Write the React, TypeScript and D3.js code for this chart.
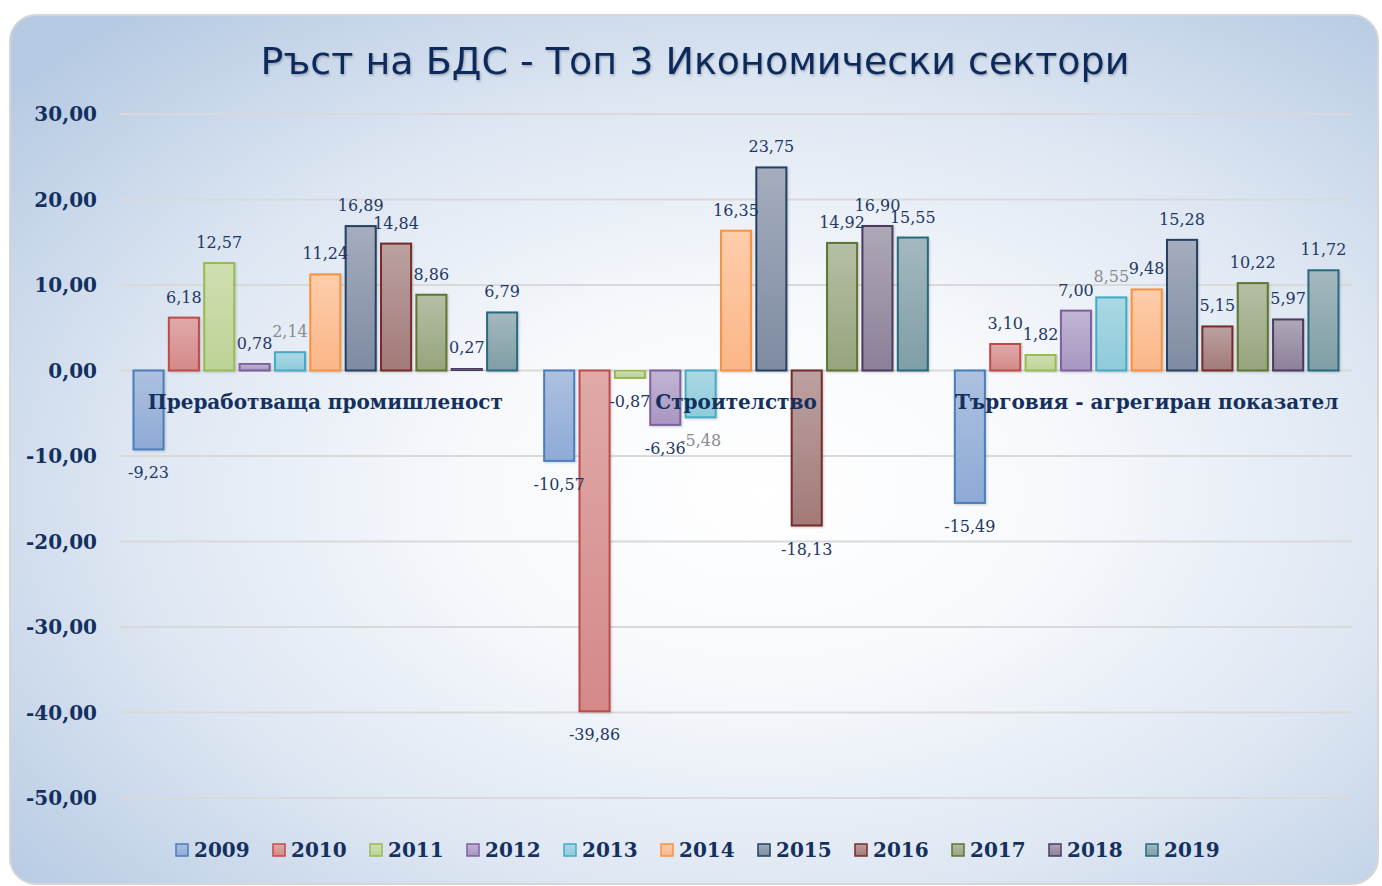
import React from "react";
import * as d3 from "d3";

const title = "Ръст на БДС - Топ 3 Икономически сектори";
const categories = ["Преработваща промишленост", "Строителство", "Търговия - агрегиран показател"];
const years = ["2009", "2010", "2011", "2012", "2013", "2014", "2015", "2016", "2017", "2018", "2019"];
const manufacturing = [-9.23, 6.18, 12.57, 0.78, 2.14, 11.24, 16.89, 14.84, 8.86, 0.27, 6.79];
const construction = [-10.57, -39.86, -0.87, -6.36, -5.48, 16.35, 23.75, -18.13, 14.92, 16.9, 15.55];
const trade = [-15.49, 3.1, 1.82, 7.0, 8.55, 9.48, 15.28, 5.15, 10.22, 5.97, 11.72];
const yTicks = [30, 20, 10, 0, -10, -20, -30, -40, -50];

const strokeColors = ["#4a7ebb", "#be4b48", "#98b954", "#7d60a0", "#46aac5", "#f69240", "#254061", "#772c2a", "#5e7530", "#4b3a60", "#266a7c"];
const fillTop = ["#adc1e0", "#dfaaa9", "#d0deb0", "#c2b5d4", "#acd8e4", "#fdcdaa", "#a5adbe", "#bca1a1", "#b5bfa5", "#aea8b7", "#a5b8bf"];
const fillBottom = ["#8eaad6", "#d48988", "#bcd396", "#a797c1", "#8ecbdb", "#fbb688", "#7e8ba2", "#a27a78", "#97a47d", "#8c8098", "#7f9ea6"];
const labelColors = ["#1f3864", "#1f3864", "#1f3864", "#1f3864", "#8c8c8c", "#1f3864", "#1f3864", "#1f3864", "#1f3864", "#1f3864", "#1f3864"];

const seriesByCategory = [manufacturing, construction, trade];

const W = 1382;
const H = 886;
const navy = "#13305f";

const fmt = (v: number) => d3.format(".2f")(v).replace(".", ",").replace("−", "-");

export default function App() {
  const x0 = d3.scaleBand<string>().domain(categories).range([120, 1352]).paddingInner(0).paddingOuter(0);
  const groupW = x0.bandwidth();
  const x1 = d3.scaleBand<string>().domain(years).range([13.5, groupW - 13.5]).paddingInner(0.15).paddingOuter(0);
  const y = d3.scaleLinear().domain([-50, 30]).range([798, 114]);

  const legendX = d3.scaleBand<string>().domain(years).range([176, 176 + 97 * years.length]);

  return (
    <svg width={W} height={H} style={{ position: "absolute", left: 0, top: 0, display: "block" }}>
      <defs>
        <radialGradient id="bg" cx="0.55" cy="0.55" r="0.72">
          <stop offset="0" stopColor="#ffffff" />
          <stop offset="0.3" stopColor="#f7f9fc" />
          <stop offset="0.65" stopColor="#dde6f2" />
          <stop offset="1" stopColor="#b6cae3" />
        </radialGradient>
        {years.map((yr, i) => (
          <linearGradient key={yr} id={`g${i}`} x1="0" y1="0" x2="0" y2="1">
            <stop offset="0" stopColor={fillTop[i]} />
            <stop offset="1" stopColor={fillBottom[i]} />
          </linearGradient>
        ))}
        <filter id="tshadow" x="-5%" y="-20%" width="110%" height="150%">
          <feDropShadow dx="1" dy="1.5" stdDeviation="1" floodColor="#000" floodOpacity="0.25" />
        </filter>
        <filter id="bshadow" x="-20%" y="-5%" width="140%" height="115%">
          <feDropShadow dx="1" dy="1" stdDeviation="1" floodColor="#000" floodOpacity="0.18" />
        </filter>
      </defs>
      <rect x={10} y={15} width={1368} height={869} rx={26} ry={26} fill="url(#bg)" stroke="#d6d6d6" strokeWidth={2} />

      <text x={695} y={74} textAnchor="middle" fontFamily="'DejaVu Sans', sans-serif" fontSize={38} fill="#0f2a5c" filter="url(#tshadow)">
        {title}
      </text>

      {yTicks.map((t) => (
        <g key={t}>
          <line x1={120} x2={1352} y1={y(t)} y2={y(t)} stroke="#d9d9d9" strokeWidth={2} />
          <text x={97} y={y(t)} dy="0.35em" textAnchor="end" fontFamily="'DejaVu Serif', serif" fontWeight="bold" fontSize={20} fill={navy}>
            {fmt(t)}
          </text>
        </g>
      ))}

      {categories.map((cat, ci) => (
        <g key={cat} transform={`translate(${x0(cat)},0)`}>
          {seriesByCategory[ci].map((v, i) => {
            const yr = years[i];
            const bx = x1(yr)!;
            const top = Math.min(y(v), y(0));
            const h = Math.abs(y(v) - y(0));
            return (
              <rect key={yr} x={bx} y={top} width={x1.bandwidth()} height={h} fill={`url(#g${i})`} stroke={strokeColors[i]} strokeWidth={2} filter="url(#bshadow)" />
            );
          })}
        </g>
      ))}

      {categories.map((cat, ci) => (
        <text key={cat} x={x0(cat)! + groupW / 2} y={409} textAnchor="middle" fontFamily="'DejaVu Serif', serif" fontWeight="bold" fontSize={20} fill={navy}>
          {cat}
        </text>
      ))}

      {categories.map((cat, ci) => (
        <g key={cat} transform={`translate(${x0(cat)},0)`}>
          {seriesByCategory[ci].map((v, i) => {
            const yr = years[i];
            const cx = x1(yr)! + x1.bandwidth() / 2;
            const ly = v >= 0 ? y(v) - 15 : y(v) + 29;
            return (
              <text key={yr} x={cx} y={ly} textAnchor="middle" fontFamily="'DejaVu Serif', serif" fontSize={16} fill={labelColors[i]}>
                {fmt(v)}
              </text>
            );
          })}
        </g>
      ))}

      {years.map((yr, i) => {
        const lx = legendX(yr)!;
        return (
          <g key={yr}>
            <rect x={lx} y={844} width={12} height={12} fill={`url(#g${i})`} stroke={strokeColors[i]} strokeWidth={1.5} />
            <text x={lx + 18} y={850} dy="0.36em" fontFamily="'DejaVu Serif', serif" fontWeight="bold" fontSize={20} fill={navy}>
              {yr}
            </text>
          </g>
        );
      })}
    </svg>
  );
}
